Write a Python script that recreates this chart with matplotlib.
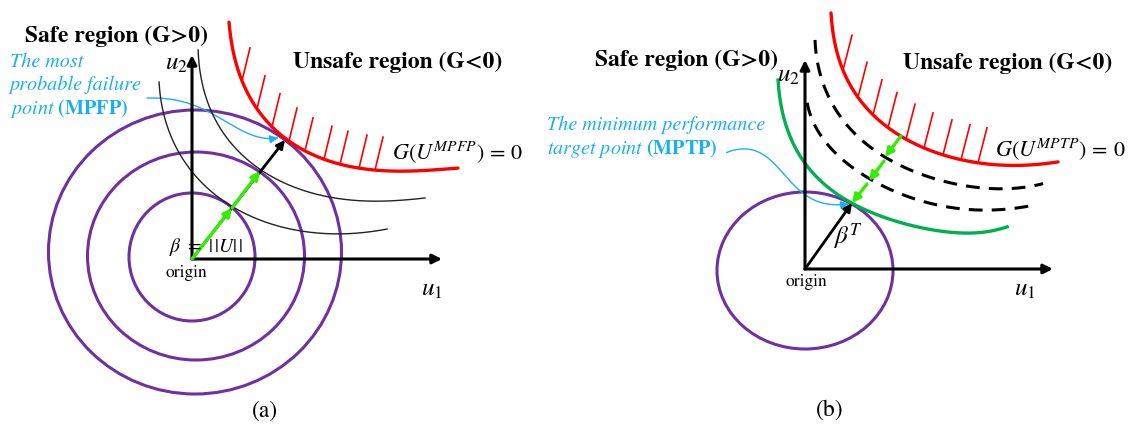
import numpy as np
import matplotlib.pyplot as plt
from matplotlib.patches import Ellipse, FancyArrowPatch
from matplotlib.path import Path

plt.rcParams['mathtext.fontset'] = 'stix'
plt.rcParams['font.family'] = 'STIXGeneral'

# ---- panel (a): most probable failure point ----
origin_a = (192, 259)
u1_tip_a = (442, 259)
u2_tip_a = (192, 55)

ring_cx = [192, 196, 195]
ring_cy = [257, 256, 252]
ring_w = [126, 217, 293]
ring_h = [128, 208, 284]

limit_a_x = [229, 233, 240, 255, 285, 310, 333, 377, 420, 458]
limit_a_y = [22, 50, 78, 103, 140, 153, 162, 170, 171, 168]
hatch_a_x = [242, 257, 272, 289, 305, 324, 340, 359, 375]

level1_x = [198, 202, 210, 225, 245, 260, 290, 328, 367, 425]
level1_y = [50, 80, 110, 135, 157, 170, 185, 197, 201, 198]
level2_x = [159, 163, 177, 200, 232, 283, 338, 387]
level2_y = [82, 110, 150, 180, 207, 227, 234, 229]

mpfp = (285, 140)
green_steps_a = [(232, 208), (260, 171)]

note_a_x = [147, 173, 200, 227, 253, 278]
note_a_y = [98, 100, 107, 123, 135, 138]

# ---- panel (b): minimum performance target point ----
origin_b = (805, 269)
u1_tip_b = (1053, 269)
u2_tip_b = (805, 60)
circle_b = (805, 270.5, 176, 157)

limit_b_x = [831, 835, 845, 858, 878, 902, 930, 957, 1013, 1058]
limit_b_y = [13, 45, 72, 100, 120, 135, 150, 160, 165, 162]
hatch_b_x = [843, 858, 873, 888, 906, 924, 943, 961, 978]

dash1_x = [815, 818, 825, 835, 853, 877, 900, 927, 960, 987, 1017, 1043]
dash1_y = [40, 65, 88, 108, 133, 152, 165, 175, 186, 189, 187, 184]
dash2_x = [807, 813, 825, 845, 872, 905, 940, 975, 1005, 1030]
dash2_y = [103, 120, 142, 162, 180, 195, 206, 210, 209, 206]

perf_x = [778, 782, 790, 800, 825, 852, 900, 950, 980, 1007]
perf_y = [80, 110, 135, 157, 185, 203, 222, 233, 232, 227]

mptp = (852, 203)
green_steps_b = [((901, 136), (885, 157)), ((884, 161), (869, 181)), ((867, 184), (852, 203))]

note_b_x = [727, 753, 775, 786, 790, 800, 815, 835, 848]
note_b_y = [152, 153, 160, 172, 185, 195, 199, 203, 205]

RED = '#ff0000'
PURPLE = '#7030a0'
CYAN = '#1ab0ee'
LIME = '#33ee00'
GREEN = '#00b050'


def smooth(xs, ys, deg=5, n=200):
    # least-squares polynomial in chord length, gives a clean smooth curve
    p = np.column_stack([xs, ys]).astype(float)
    d = np.r_[0, np.cumsum(np.hypot(*np.diff(p, axis=0).T))]
    t = d / d[-1]
    deg = min(deg, len(xs) - 1)
    tt = np.linspace(0, 1, n)
    cx = np.polyval(np.polyfit(t, p[:, 0], deg), tt)
    cy = np.polyval(np.polyfit(t, p[:, 1], deg), tt)
    return cx, cy


def arrow(ax, start, end, color='k', lw=2.2, scale=14):
    ax.annotate('', xy=end, xytext=start,
                arrowprops=dict(arrowstyle='-|>', color=color, lw=lw,
                                mutation_scale=scale, shrinkA=0, shrinkB=0))


def hatched_limit(ax, xs, ys, hatch_x, dx, dy):
    cx, cy = smooth(xs, ys)
    ax.plot(cx, cy, color=RED, lw=2.4, solid_capstyle='round')
    for hx in hatch_x:
        hy = np.interp(hx, cx, cy)
        ax.plot([hx, hx + dx], [hy, hy + dy], color=RED, lw=1.2)


def curved_note(ax, xs, ys):
    cx, cy = smooth(xs, ys, deg=4)
    path = Path(np.column_stack([cx, cy]))
    ax.add_patch(FancyArrowPatch(path=path, arrowstyle='-|>', color=CYAN,
                                 lw=1.0, mutation_scale=12))


fig = plt.figure(figsize=(11.3, 4.29), dpi=100)
ax = fig.add_axes([0, 0, 1, 1])
ax.set_xlim(0, 1130)
ax.set_ylim(429, 0)
ax.axis('off')

# ---------- (a) ----------
for cx, cy, w, h in zip(ring_cx, ring_cy, ring_w, ring_h):
    ax.add_patch(Ellipse((cx, cy), w, h, fill=False, ec=PURPLE, lw=2.2))

ax.plot(*smooth(level1_x, level1_y), color='#222222', lw=1.0)
ax.plot(*smooth(level2_x, level2_y), color='#222222', lw=1.0)

arrow(ax, origin_a, u1_tip_a)
arrow(ax, origin_a, u2_tip_a)

hatched_limit(ax, limit_a_x, limit_a_y, hatch_a_x, 8, -33)

arrow(ax, origin_a, mpfp, lw=2.0, scale=12)
prev = origin_a
for pt in green_steps_a:
    arrow(ax, prev, pt, color=LIME, lw=2.4, scale=12)
    prev = pt

curved_note(ax, note_a_x, note_a_y)

ax.text(25, 36, 'Safe region (G>0)', fontsize=17, fontweight='bold', va='center')
ax.text(293, 62, 'Unsafe region (G<0)', fontsize=17, fontweight='bold', va='center')
ax.text(10, 62, 'The most', fontsize=14.5, style='italic', color=CYAN, va='center')
ax.text(10, 85, 'probable failure', fontsize=14.5, style='italic', color=CYAN, va='center')
ax.text(10, 109, r'$\mathit{point}\ \mathbf{(MPFP)}$', fontsize=14.5, color=CYAN, va='center')
ax.text(392, 153, r'$G(U^{MPFP})\,=\,0$', fontsize=16, va='center')
ax.text(176, 64, r'$u_2$', fontsize=18, ha='center', va='center')
ax.text(432, 290, r'$u_1$', fontsize=18, ha='center', va='center')
ax.text(206, 247, r'$\beta\ =\ |\,|U|\,|$', fontsize=14, ha='center', va='center')
ax.text(186, 273, 'origin', fontsize=12.5, ha='center', va='center')
ax.text(265, 411, '(a)', fontsize=17, ha='center', va='center')

# ---------- (b) ----------
bx, by, bw, bh = circle_b
ax.add_patch(Ellipse((bx, by), bw, bh, fill=False, ec=PURPLE, lw=2.2))

ax.plot(*smooth(perf_x, perf_y), color=GREEN, lw=2.4)
ax.plot(*smooth(dash1_x, dash1_y), color='k', lw=2.2, ls=(0, (4.5, 3)))
ax.plot(*smooth(dash2_x, dash2_y), color='k', lw=2.2, ls=(0, (4.5, 3)))

arrow(ax, origin_b, u1_tip_b)
arrow(ax, origin_b, u2_tip_b)

hatched_limit(ax, limit_b_x, limit_b_y, hatch_b_x, 9, -35)

arrow(ax, origin_b, mptp, lw=2.0, scale=12)
for s, e in green_steps_b:
    arrow(ax, s, e, color=LIME, lw=2.4, scale=12)

curved_note(ax, note_b_x, note_b_y)

ax.text(595, 60, 'Safe region (G>0)', fontsize=17, fontweight='bold', va='center')
ax.text(903, 63, 'Unsafe region (G<0)', fontsize=17, fontweight='bold', va='center')
ax.text(547, 125, 'The minimum performance', fontsize=14.5, style='italic', color=CYAN, va='center')
ax.text(547, 148, r'$\mathit{target\ point}\ \mathbf{(MPTP)}$', fontsize=14.5, color=CYAN, va='center')
ax.text(995, 150, r'$G(U^{MPTP})\,=\,0$', fontsize=16, va='center')
ax.text(788, 76, r'$u_2$', fontsize=18, ha='center', va='center')
ax.text(1025, 290, r'$u_1$', fontsize=18, ha='center', va='center')
ax.text(848, 237, r'$\beta^T$', fontsize=18, ha='center', va='center')
ax.text(806, 282, 'origin', fontsize=12.5, ha='center', va='center')
ax.text(830, 410, '(b)', fontsize=17, ha='center', va='center')

fig.savefig('out.png', dpi=100)
